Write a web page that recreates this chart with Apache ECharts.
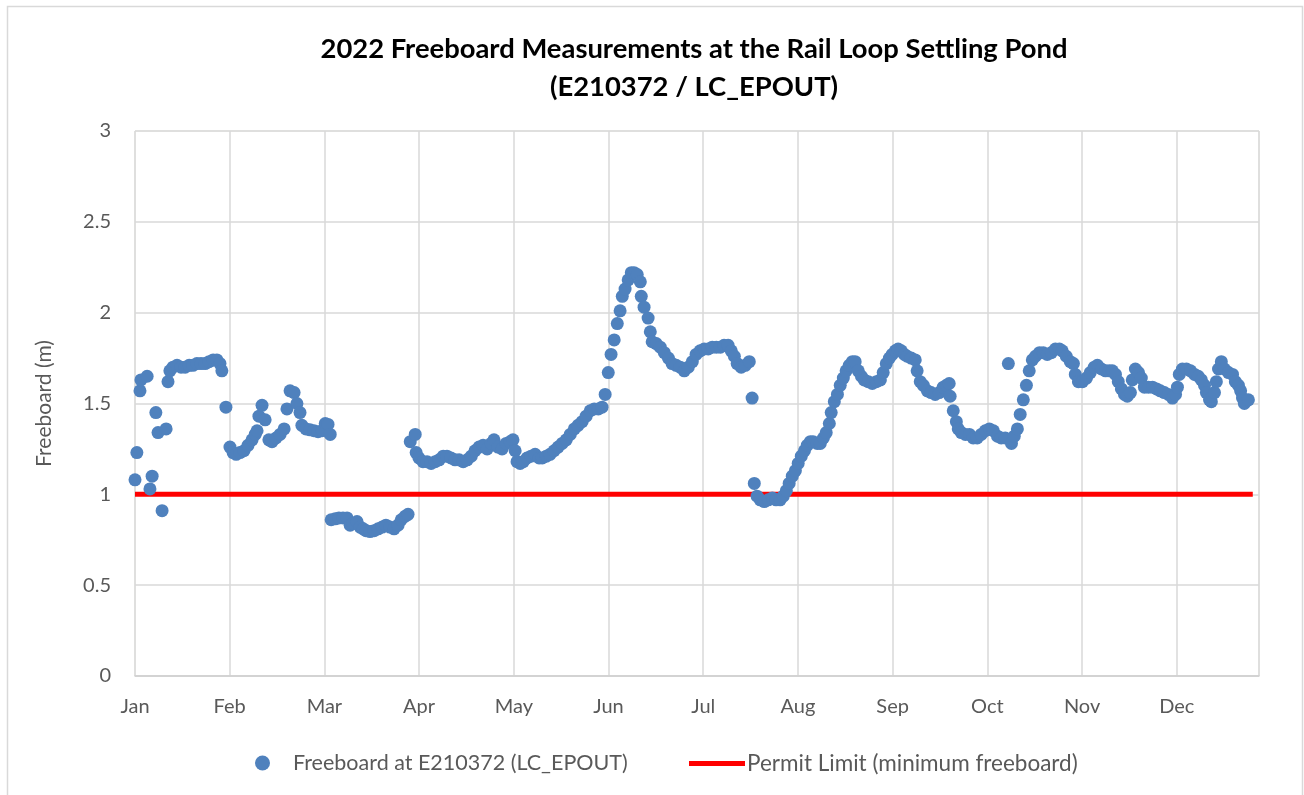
<!DOCTYPE html>
<html>
<head>
<meta charset="utf-8">
<title>2022 Freeboard Measurements</title>
<script src="https://cdn.jsdelivr.net/npm/echarts@6/dist/echarts.min.js"></script>
<style>
  html, body { margin: 0; padding: 0; background: #fff; }
  #freeboard { width: 1304px; height: 795px; }
</style>
</head>
<body>
<div id="freeboard"></div>
<script>
// 月份标签
var monthLabels = ['Jan', 'Feb', 'Mar', 'Apr', 'May', 'Jun', 'Jul', 'Aug', 'Sep', 'Oct', 'Nov', 'Dec'];
// 测量日 (day of year, 0 = Jan 1)
var days = [
  0.0, 0.6, 1.6, 1.9, 3.9, 4.8, 5.5, 6.7, 7.4, 8.7, 10.0, 10.6, 11.2, 12.2, 13.5, 14.8, 16.1, 17.4, 18.6, 19.9,
  21.2, 22.5, 23.8, 25.1, 26.3, 27.3, 27.9, 29.2,
  30.5, 31.5, 32.5, 33.7, 35.0, 36.3, 37.6, 38.6, 39.2, 39.8, 40.8, 41.8, 43.0, 44.0, 45.3, 46.6, 47.9, 48.8,
  49.8, 51.1, 52.0, 53.0, 53.6, 54.9, 56.2, 57.5, 58.8, 60.1, 61.1, 62.0, 62.7,
  63.0, 64.3, 65.5, 66.8, 68.1, 69.1, 70.0, 71.3, 72.3, 73.3, 74.2, 75.5, 76.8, 78.1, 79.4, 80.6, 81.9, 83.2,
  84.5, 85.5, 86.8, 87.7,
  88.4, 90.0, 90.3, 91.2, 92.5, 93.8, 95.1, 96.4, 97.7, 99.0, 100.2, 101.5, 102.8, 104.1, 105.4, 106.7, 108.0,
  109.2, 110.5, 111.8, 113.1, 114.4, 115.3, 116.6, 117.9, 119.2, 120.5, 121.4, 122.1, 122.7,
  123.7, 124.7, 125.9, 127.2, 128.5, 129.8, 130.8, 132.1, 133.3, 134.6, 135.9, 137.2, 138.5, 139.8, 141.1,
  142.3, 143.6, 144.9, 146.2, 147.5, 148.8, 150.0, 151.0,
  152.0, 152.9, 153.9, 154.9, 155.8, 156.5, 157.4, 158.4, 159.4, 160.3, 161.3, 162.3, 162.6, 163.5, 164.8,
  165.5, 166.1, 167.4, 168.7, 170.0, 171.3, 172.5, 173.8, 175.1, 176.4, 177.7, 179.0, 180.2, 181.5, 182.8,
  184.1, 185.4, 186.7, 188.0, 189.2,
  190.5, 191.5, 192.5, 193.4, 194.7, 196.0, 197.3, 198.2, 198.9, 199.8, 200.8, 202.1, 203.4, 204.7, 205.9,
  207.2, 208.2, 209.2, 210.1, 211.1, 212.1, 213.0, 214.0, 215.0, 215.9, 216.9, 217.8, 219.1, 220.1, 221.1,
  222.0, 223.0, 223.6, 224.6, 225.6, 226.5, 227.5, 228.4, 229.4, 230.4, 231.3, 232.3, 233.3, 234.2, 235.5,
  236.8, 238.1, 239.4, 240.3, 241.3, 242.3, 243.2, 244.2, 245.1, 246.1, 247.1, 248.0, 249.3, 250.6, 251.2,
  252.2, 253.2, 254.5, 255.7, 257.0, 258.3, 259.6, 260.6, 261.5, 261.8, 262.8, 263.8, 264.4, 265.4, 266.7,
  268.0, 269.2, 270.5, 271.8, 273.1, 274.4, 275.7, 277.0, 278.2, 279.5, 280.5, 281.5, 282.4, 283.4, 284.3,
  285.3, 286.3, 287.2, 288.2, 289.2, 290.5, 291.7, 293.0, 294.3, 295.6, 296.9, 297.8, 299.1, 300.4, 301.4,
  302.0, 303.0, 304.3, 305.6, 306.8, 308.1, 309.1, 310.4, 311.7, 312.9, 313.9, 314.9, 315.8, 316.8, 317.8,
  318.7, 319.7, 320.3, 321.3, 322.3, 323.2, 324.2, 325.5, 326.8, 328.1, 329.3, 330.6, 331.9, 333.2, 334.2,
  334.8, 335.4, 336.4, 337.7, 339.0, 340.3, 341.5, 342.5, 343.5, 344.1, 345.1, 345.7, 346.7, 347.3, 348.0,
  348.9, 349.9, 351.2, 352.5, 353.4, 354.4, 355.1, 355.7, 356.3, 357.6
];
// 超高 (m)
var freeboard = [
  1.08, 1.23, 1.57, 1.63, 1.65, 1.03, 1.10, 1.45, 1.34, 0.91, 1.36, 1.62, 1.68, 1.70, 1.71, 1.70, 1.70, 1.71, 1.71, 1.72,
  1.72, 1.72, 1.73, 1.74, 1.74, 1.72, 1.68, 1.48,
  1.26, 1.23, 1.22, 1.23, 1.24, 1.27, 1.30, 1.33, 1.35, 1.43, 1.49, 1.41, 1.30, 1.29, 1.31, 1.33, 1.36, 1.47,
  1.57, 1.56, 1.50, 1.45, 1.38, 1.36, 1.355, 1.35, 1.345, 1.35, 1.39, 1.385, 1.33,
  0.86, 0.865, 0.87, 0.87, 0.87, 0.83, 0.84, 0.85, 0.82, 0.81, 0.80, 0.795, 0.80, 0.81, 0.82, 0.83, 0.82, 0.81,
  0.83, 0.86, 0.88, 0.89,
  1.29, 1.33, 1.23, 1.20, 1.18, 1.18, 1.17, 1.18, 1.19, 1.21, 1.21, 1.20, 1.19, 1.19, 1.18, 1.19, 1.21,
  1.24, 1.26, 1.27, 1.25, 1.28, 1.30, 1.26, 1.25, 1.28, 1.29, 1.30, 1.24, 1.18,
  1.17, 1.18, 1.20, 1.21, 1.22, 1.20, 1.20, 1.21, 1.22, 1.24, 1.26, 1.28, 1.30, 1.33, 1.36,
  1.38, 1.40, 1.43, 1.46, 1.47, 1.47, 1.48, 1.55,
  1.67, 1.77, 1.85, 1.94, 2.01, 2.09, 2.13, 2.18, 2.22, 2.22, 2.21, 2.17, 2.09, 2.03, 1.97,
  1.895, 1.84, 1.83, 1.81, 1.78, 1.75, 1.72, 1.71, 1.70, 1.68, 1.70, 1.73, 1.77, 1.79, 1.80,
  1.80, 1.81, 1.81, 1.81, 1.82,
  1.82, 1.79, 1.76, 1.72, 1.70, 1.71, 1.73, 1.53, 1.06, 0.99, 0.97, 0.96, 0.97, 0.98, 0.97,
  0.97, 0.99, 1.02, 1.06, 1.10, 1.13, 1.17, 1.21, 1.24, 1.27, 1.29, 1.29, 1.28, 1.28, 1.31,
  1.34, 1.39, 1.45, 1.51, 1.55, 1.60, 1.64, 1.68, 1.71, 1.73, 1.73, 1.68, 1.65, 1.63, 1.62,
  1.61, 1.62, 1.63, 1.67, 1.72, 1.75, 1.77, 1.79, 1.80, 1.79, 1.77, 1.76, 1.75, 1.74, 1.68,
  1.62, 1.60, 1.57, 1.56, 1.55, 1.56, 1.59, 1.60, 1.61, 1.54, 1.46, 1.40, 1.36, 1.34, 1.33,
  1.33, 1.31, 1.31, 1.33, 1.35, 1.36, 1.35, 1.32, 1.31, 1.31, 1.72, 1.28, 1.32, 1.36, 1.44,
  1.52, 1.60, 1.68, 1.74, 1.76, 1.78, 1.78, 1.77, 1.78, 1.80, 1.80, 1.79, 1.76, 1.73, 1.72,
  1.66, 1.62, 1.62, 1.64, 1.67, 1.70, 1.71, 1.69, 1.68, 1.68, 1.68, 1.66, 1.62, 1.58, 1.55,
  1.54, 1.56, 1.63, 1.69, 1.67, 1.64, 1.59, 1.59, 1.59, 1.58, 1.57, 1.56, 1.55, 1.53, 1.55,
  1.59, 1.66, 1.69, 1.69, 1.68, 1.66, 1.65, 1.63, 1.60, 1.56, 1.52, 1.51, 1.56, 1.62, 1.69,
  1.73, 1.69, 1.67, 1.66, 1.62, 1.60, 1.57, 1.53, 1.50, 1.52
];
// 许可限值
var limitDays = [0, 359];
var limitValues = [1, 1];

var monthStep = 365 / 12;
var labelColor = '#595959';
var fontFamily = 'Lato, "Liberation Sans", sans-serif';

var pointData = days.map(function (d, i) { return [d, freeboard[i]]; });
var limitData = limitDays.map(function (d, i) { return [d, limitValues[i]]; });

var myChart = echarts.init(document.getElementById('freeboard'));
myChart.setOption({
  animation: false,
  backgroundColor: '#fff',
  textStyle: { fontFamily: fontFamily },
  title: {
    text: '2022 Freeboard Measurements at the Rail Loop Settling Pond\n(E210372 / LC_EPOUT)',
    left: 689,
    top: 25,
    textAlign: 'center',
    textStyle: {
      fontFamily: fontFamily,
      fontWeight: 'bold',
      fontSize: 27.4,
      lineHeight: 38,
      color: '#000'
    }
  },
  graphic: [{
    type: 'rect', // 外框
    shape: { x: 7.5, y: 6.5, width: 1295, height: 800 },
    style: { fill: 'none', stroke: '#d9d9d9', lineWidth: 1.5 },
    silent: true
  }],
  legend: [{
    data: ['Freeboard at E210372 (LC_EPOUT)'],
    left: 250,
    top: 747,
    icon: 'circle',
    itemWidth: 15,
    itemHeight: 15,
    textStyle: { color: labelColor, fontSize: 21.5, padding: [0, 0, 0, 18], fontFamily: fontFamily }
  }, {
    data: ['Permit Limit (minimum freeboard)'],
    left: 684,
    top: 747,
    icon: 'rect',
    itemWidth: 56,
    itemHeight: 5,
    itemStyle: { color: '#ff0000' },
    textStyle: { color: labelColor, fontSize: 22.5, padding: [0, 0, 0, -3], fontFamily: fontFamily }
  }],
  grid: {
    left: 135,
    right: 45,
    top: 131,
    bottom: 119,
    show: true,
    borderColor: '#e8e8dc',
    borderWidth: 1
  },
  xAxis: {
    type: 'value',
    min: 0,
    max: 361,
    interval: monthStep,
    axisLine: { show: true, lineStyle: { color: '#d0d0d0', width: 1.5 } },
    axisTick: { show: false },
    splitLine: { show: true, lineStyle: { color: '#d9d9d9', width: 1.5 } },
    axisLabel: {
      color: labelColor,
      fontSize: 20,
      margin: 21,
      fontFamily: fontFamily,
      formatter: function (v) {
        var m = Math.round(v / monthStep);
        return monthLabels[m] || '';
      }
    }
  },
  yAxis: {
    type: 'value',
    min: 0,
    max: 3,
    interval: 0.5,
    name: 'Freeboard (m)',
    nameLocation: 'middle',
    nameGap: 80,
    nameTextStyle: { color: labelColor, fontSize: 21, fontFamily: fontFamily },
    axisLine: { show: false },
    axisTick: { show: false },
    splitLine: { show: true, lineStyle: { color: '#d9d9d9', width: 1.5 } },
    axisLabel: { color: labelColor, fontSize: 20, margin: 24, fontFamily: fontFamily }
  },
  series: [{
    name: 'Permit Limit (minimum freeboard)',
    type: 'line',
    data: limitData,
    symbol: 'none',
    lineStyle: { color: '#ff0000', width: 5 },
    itemStyle: { color: '#ff0000' },
    z: 2
  }, {
    name: 'Freeboard at E210372 (LC_EPOUT)',
    type: 'scatter',
    data: pointData,
    symbolSize: 13,
    itemStyle: { color: '#4f81bd', opacity: 1 },
    z: 3
  }]
});
</script>
</body>
</html>
